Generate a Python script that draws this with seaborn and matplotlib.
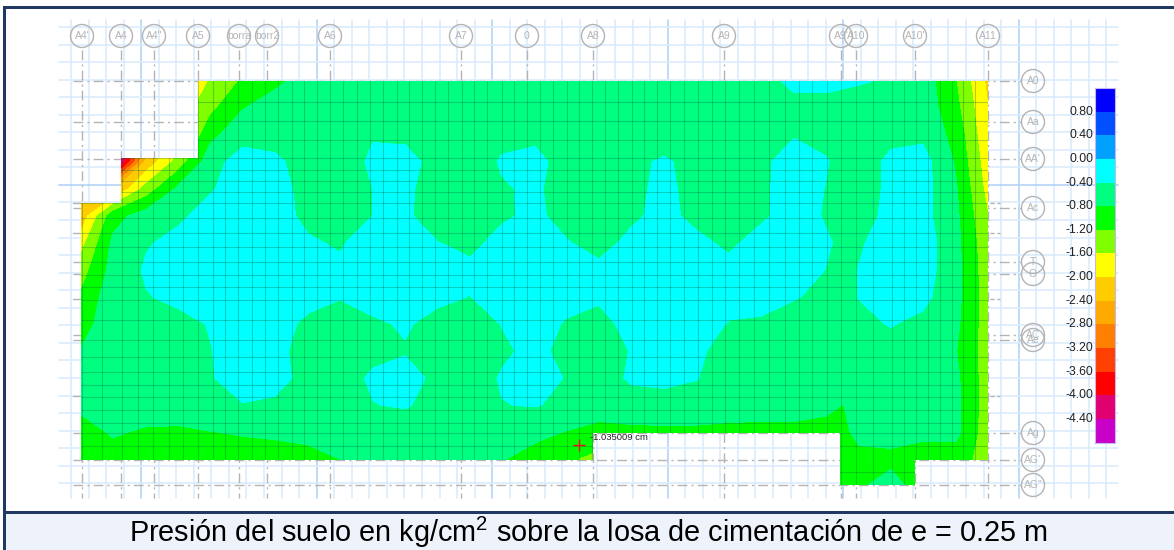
"""
plot.py - presion del suelo sobre la losa de cimentacion (contornos)
"""

import numpy as np
import matplotlib
matplotlib.use("Agg")
import matplotlib.pyplot as plt
import seaborn as sns
from matplotlib.colors import ListedColormap
from matplotlib.patches import Circle, PathPatch, Rectangle
from matplotlib.path import Path

# Pressure (kg/cm2) on a coarse grid of the plan
plan_x = [81, 113, 146, 178, 211, 243, 275, 308, 340, 373, 405, 437, 470, 502, 535,
          567, 599, 632, 664, 697, 729, 761, 794, 826, 843, 859, 891, 923, 956, 988]
plan_y = [81, 108, 135, 162, 189, 216, 243, 270, 297, 324, 351, 378, 405, 432, 459, 486]

p_081 = [-5, -5, -4, -2.2, -1.55, -1.15, -.9, -.62, -.65, -.65, -.65, -.65, -.65, -.65, -.65,
         -.65, -.65, -.65, -.65, -.65, -.65, -.5, -.34, -.34, -.36, -.38, -.43, -.57, -1.2, -2.1]
p_108 = [-5, -5, -4, -1.9, -1.3, -.82, -.6, -.62, -.65, -.65, -.65, -.65, -.65, -.65, -.65,
         -.65, -.65, -.65, -.65, -.65, -.65, -.55, -.48, -.48, -.5, -.52, -.55, -.55, -1.1, -2.0]
p_135 = [-5, -5, -2.9, -1.9, -.9, -.55, -.52, -.6, -.55, -.42, -.46, -.55, -.6, -.48, -.46,
         -.6, -.65, -.55, -.55, -.6, -.65, -.55, -.42, -.48, -.55, -.58, -.47, -.48, -.95, -1.95]
p_162 = [-5, -5, -2.3, -1.45, -.55, -.22, -.34, -.54, -.56, -.35, -.3, -.5, -.58, -.37, -.32,
         -.52, -.6, -.47, -.36, -.51, -.65, -.47, -.26, -.38, -.5, -.54, -.34, -.25, -.85, -1.85]
p_189 = [-2.5, -2.5, -1.45, -.72, -.43, -.22, -.29, -.5, -.6, -.4, -.34, -.54, -.63, -.43, -.35,
         -.55, -.68, -.48, -.32, -.52, -.66, -.46, -.26, -.41, -.52, -.54, -.34, -.25, -.77, -1.75]
p_216 = [-2.3, -.95, -.62, -.46, -.27, -.18, -.27, -.48, -.6, -.4, -.35, -.55, -.65, -.45, -.33,
         -.53, -.67, -.46, -.3, -.5, -.66, -.46, -.26, -.43, -.53, -.52, -.32, -.28, -.72, -1.6]
p_243 = [-1.75, -.72, -.43, -.31, -.2, -.15, -.2, -.36, -.44, -.23, -.2, -.39, -.49, -.29, -.2,
         -.38, -.52, -.31, -.2, -.32, -.47, -.27, -.2, -.36, -.47, -.44, -.24, -.2, -.68, -1.5]
p_270 = [-1.4, -.65, -.36, -.25, -.15, -.12, -.15, -.27, -.33, -.2, -.2, -.3, -.32, -.25, -.2,
         -.28, -.32, -.22, -.15, -.2, -.3, -.2, -.18, -.41, -.5, -.39, -.22, -.22, -.68, -1.45]
p_297 = [-1.15, -.55, -.42, -.33, -.22, -.15, -.2, -.3, -.39, -.26, -.2, -.32, -.41, -.23, -.2,
         -.27, -.36, -.2, -.13, -.15, -.24, -.28, -.38, -.48, -.5, -.39, -.22, -.3, -.68, -1.42]
p_324 = [-.95, -.58, -.5, -.5, -.38, -.22, -.27, -.47, -.5, -.46, -.36, -.52, -.59, -.39, -.24,
         -.44, -.5, -.3, -.17, -.2, -.43, -.45, -.55, -.55, -.55, -.49, -.38, -.5, -.72, -1.42]
p_351 = [-.78, -.62, -.6, -.6, -.41, -.22, -.32, -.52, -.6, -.49, -.43, -.55, -.62, -.46, -.31,
         -.51, -.59, -.38, -.2, -.34, -.54, -.62, -.65, -.65, -.6, -.6, -.57, -.55, -.79, -1.42]
p_378 = [-.7, -.65, -.65, -.6, -.43, -.2, -.3, -.5, -.55, -.35, -.27, -.48, -.57, -.37, -.22,
         -.43, -.56, -.35, -.34, -.39, -.6, -.65, -.65, -.65, -.6, -.6, -.6, -.6, -.72, -1.42]
p_405 = [-.72, -.6, -.6, -.55, -.55, -.42, -.45, -.55, -.6, -.41, -.37, -.52, -.6, -.41, -.38,
         -.48, -.65, -.55, -.5, -.52, -.62, -.65, -.65, -.7, -.81, -.62, -.6, -.6, -.7, -1.42]
p_432 = [-.95, -.76, -.85, -.88, -.81, -.77, -.75, -.73, -.65, -.6, -.6, -.62, -.65, -.62, -.7,
         -.82, -.9, -.9, -.9, -.9, -.9, -.9, -.9, -.95, -.9, -.68, -.65, -.74, -.7, -1.45]
p_459 = [-1.05, -.95, -1, -1, -1, -.97, -.93, -.88, -.8, -.7, -.68, -.68, -.68, -.78, -.95,
         -1.15, -1.35, -1, -1, -1, -1, -1, -1, -1.05, -1, -.92, -.9, -.92, -1, -1.4]
p_486 = [-.8, -.8, -.8, -.8, -.8, -.8, -.8, -.8, -.8, -.8, -.8, -.8, -.8, -.8, -.8,
         -.8, -.8, -.8, -.8, -.8, -.8, -.8, -.8, -1, -1, -.85, -.65, -1, -1, -1.4]

pressure_rows = [p_081, p_108, p_135, p_162, p_189, p_216, p_243, p_270,
                 p_297, p_324, p_351, p_378, p_405, p_432, p_459, p_486]

# Colour scale, top to bottom
band_colors = ["#0000ff", "#0050ff", "#00a0ff", "#00ffff", "#00ff80", "#00ff00", "#80ff00",
               "#ffff00", "#ffcc00", "#ffaa00", "#ff8000", "#ff4000", "#ff0000", "#e0006f", "#c800c8"]
band_labels = ["0.80", "0.40", "0.00", "-0.40", "-0.80", "-1.20", "-1.60", "-2.00",
               "-2.40", "-2.80", "-3.20", "-3.60", "-4.00", "-4.40"]
band_limits = [0.8, 0.4, 0.0, -0.4, -0.8, -1.2, -1.6, -2.0, -2.4, -2.8, -3.2, -3.6, -4.0, -4.4]

# Slab outline
slab_x = [198, 988, 988, 915, 915, 840, 840, 593, 593, 81, 81, 121, 121, 198]
slab_y = [81, 81, 460, 460, 485, 485, 433, 433, 460, 460, 203, 203, 158, 158]

# Shell mesh lines seen on the slab
mesh_x = [82, 102, 122, 138, 153, 169, 183, 198, 213, 225, 238, 252, 265, 278, 292, 304, 317,
          330, 343, 357, 370, 383, 397, 409, 422, 435, 448, 462, 474, 487, 502, 514, 527, 540,
          553, 567, 579, 592, 605, 618, 632, 644, 657, 670, 684, 698, 712, 725, 739, 754, 769,
          785, 799, 812, 827, 841, 856, 873, 892, 904, 916, 928, 940, 952, 963, 975]
mesh_y = [102, 121, 140, 158, 170, 181, 192, 203, 218, 233, 247, 262, 275, 287, 300, 320, 340,
          357, 372, 385, 397, 410, 423, 433, 446, 472]

# Grid axes: bubbles on top and at the right
axis_names_x = ["A4'", "A4", 'A4"', "A5", "borra", "borr2", "A6", "A7", "0", "A8", "A9",
                "A9'", "A10", "A10'", "A11"]
axis_pos_x = [82, 121, 154, 198, 239, 267, 330, 461, 527, 593, 724, 841, 856, 915, 988]
axis_names_y = ["A0", "Aa", "AA'", "Ac", "T", "O", "AC", "Ae", "Ag", "AG'", 'AG"']
axis_pos_y = [81, 122, 159, 208, 262, 274, 335, 340, 433, 460, 485]
short_y = [203, 233, 299, 396]

caption = "Presión del suelo en kg/cm$^{2}$ sobre la losa de cimentación de e = 0.25 m"

sns.set_theme(style="white")
plt.rcParams["font.family"] = ["Liberation Sans", "DejaVu Sans"]
plt.rcParams["mathtext.fontset"] = "custom"
plt.rcParams["mathtext.rm"] = "Liberation Sans"
plt.rcParams["mathtext.default"] = "regular"

fig = plt.figure(figsize=(11.74, 5.5), dpi=100, facecolor="white")
ax = fig.add_axes([0, 0, 1, 1])
ax.set_xlim(0, 1174)
ax.set_ylim(550, 0)
ax.axis("off")

# Blue drawing grid
for i, gx in enumerate(np.arange(71, 1110, 17.55)):
    ax.plot([gx, gx], [20, 498], color="#b4d3f6" if i % 10 == 4 else "#dcebfc", lw=1.2, zorder=1)
for i, gy in enumerate(np.arange(27, 490, 17.55)):
    ax.plot([59, 1118], [gy, gy], color="#b4d3f6" if gy > 180 and gy < 190 else "#dcebfc", lw=1.2, zorder=1)

# Dash-dot grid axes
gray = "#b4b4b4"
for name, gx in zip(axis_names_x, axis_pos_x):
    ax.plot([gx, gx], [50, 498], color=gray, lw=1, dashes=(7, 3, 1.5, 3), zorder=2)
    ax.add_patch(Circle((gx, 36), 11.5, fc="none", ec=gray, lw=1, zorder=3))
    ax.text(gx, 36, name, ha="center", va="center", fontsize=7.5, color="#b4b4b4", zorder=3)
for name, gy in zip(axis_names_y, axis_pos_y):
    ax.plot([73, 1021], [gy, gy], color=gray, lw=1, dashes=(7, 3, 1.5, 3), zorder=2)
    ax.add_patch(Circle((1033, gy), 11.5, fc="none", ec=gray, lw=1, zorder=3))
    ax.text(1033, gy, name, ha="center", va="center", fontsize=7.5, color="#b4b4b4", zorder=3)
for gy in short_y:
    ax.plot([73, 82], [gy, gy], color=gray, lw=1, zorder=2)
    ax.plot([990, 1000], [gy, gy], color=gray, lw=1, dashes=(3, 2), zorder=2)

# Slab: white base, filled contours, mesh
slab_path = Path(np.column_stack([slab_x + slab_x[:1], slab_y + slab_y[:1]]), closed=True)
slab_patch = PathPatch(slab_path, fc="white", ec="none", zorder=4)
ax.add_patch(slab_patch)

levels = [-9] + band_limits[::-1] + [1.2, 9]
level_colors = band_colors[::-1]
field = np.array(pressure_rows)
bands = ax.contourf(plan_x, plan_y, field, levels=levels[:-1], colors=level_colors, zorder=5)
bands.set_clip_path(slab_patch)
bands.set_edgecolor("face")
bands.set_linewidth(0.3)

for mx in mesh_x:
    line, = ax.plot([mx, mx], [81, 486], color="#00603c", alpha=0.3, lw=0.8, zorder=6)
    line.set_clip_path(slab_patch)
for my in mesh_y:
    line, = ax.plot([81, 988], [my, my], color="#00603c", alpha=0.3, lw=0.8, zorder=6)
    line.set_clip_path(slab_patch)

# Probe label
ax.plot([579], [444.5], marker="+", ms=9, mew=1, color="#e8101e", zorder=7)
ax.text(590, 437, "-1.035009 cm", fontsize=6.8, color="#222222", va="center", zorder=7)

# Colour scale through a seaborn heatmap
cax = fig.add_axes([1094.5 / 1174, 1 - 442.5 / 550, 20.5 / 1174, 354.5 / 550])
bar_cells = np.arange(len(band_colors)).reshape(-1, 1)
sns.heatmap(bar_cells, cmap=ListedColormap(band_colors), cbar=False, ax=cax, xticklabels=False)
cax.set_yticks(range(1, len(band_labels) + 1))
cax.set_yticklabels(band_labels, rotation=0, fontsize=8.8, color="#222222")
cax.tick_params(axis="y", length=0, pad=1)
for side in cax.spines.values():
    side.set_visible(True)
    side.set_color("#c8b4f0")
    side.set_linewidth(0.8)

# Frame and caption band
navy = "#1f3864"
ax.add_patch(Rectangle((6, 514), 1168, 36, fc="#eef2fa", ec="none", zorder=8))
ax.add_patch(Rectangle((3, 5.5), 1171, 3, fc=navy, ec="none", zorder=9))
ax.add_patch(Rectangle((3, 5.5), 3, 545, fc=navy, ec="none", zorder=9))
ax.add_patch(Rectangle((3, 511), 1171, 3, fc=navy, ec="none", zorder=9))
ax.text(588, 532.5, caption, ha="center", va="center", fontsize=20.8, color="black", zorder=10)

fig.savefig("out.png", dpi=100, facecolor="white")
